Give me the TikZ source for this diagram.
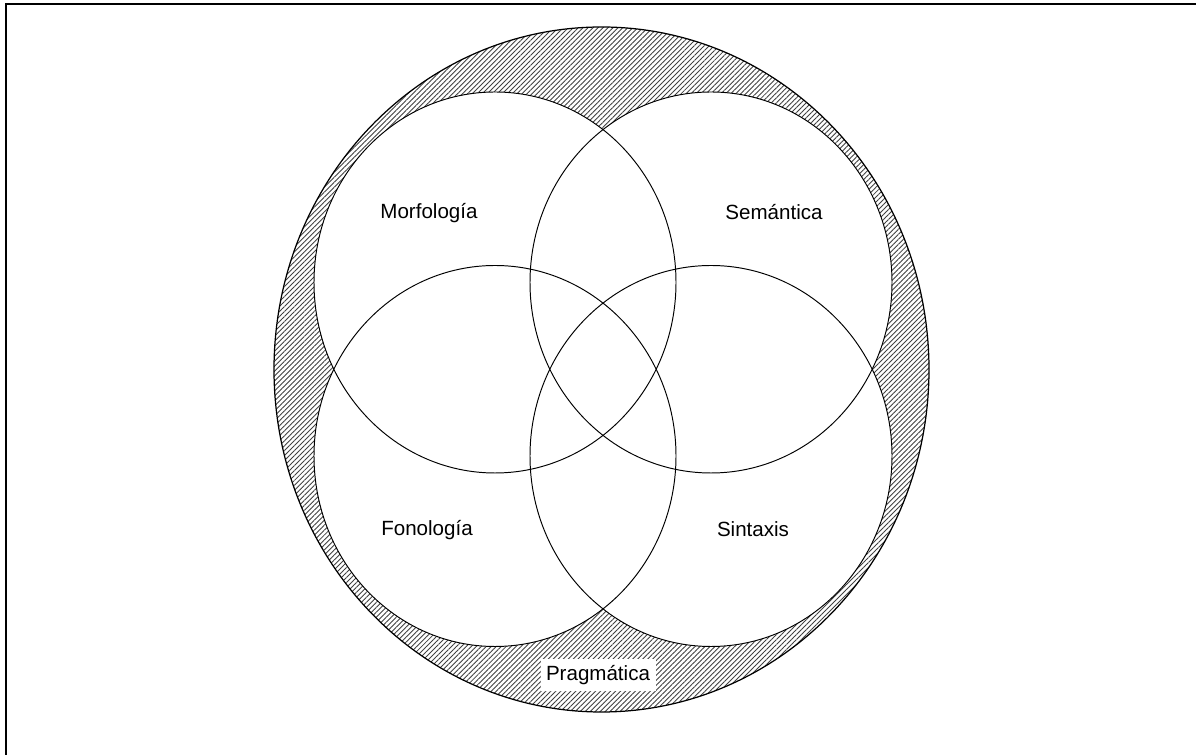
\documentclass[tikz,border=0pt]{standalone}
\usepackage{fontspec}
\setmainfont{Liberation Sans}
\usetikzlibrary{patterns.meta}

\begin{document}
\begin{tikzpicture}[
    area/.style={draw,line width=0.55pt},
    hatch/.style={pattern={Lines[angle=45,distance=2pt,line width=0.5pt]},pattern color=black!75},
    label/.style={font=\fontsize{11.7}{14}\selectfont,inner sep=0pt}]
  \useasboundingbox (0,0) rectangle (23.92,15.10);
  % frame
  \draw[line width=1.3pt] (0.12,0) -- (0.12,15.02) -- (23.92,15.02);
  % outer area
  \fill[hatch] (12.03,7.71) ellipse [x radius=6.55cm,y radius=6.85cm];
  \draw[line width=0.7pt] (12.03,7.71) ellipse [x radius=6.55cm,y radius=6.85cm];
  \foreach \cx/\cy in {9.90/9.45,14.22/9.45,9.90/5.98,14.22/5.98}
    \fill[white] (\cx,\cy) ellipse [x radius=3.62cm,y radius=3.81cm];
  \foreach \cx/\cy in {9.90/9.45,14.22/9.45,9.90/5.98,14.22/5.98}
    \draw[area] (\cx,\cy) ellipse [x radius=3.62cm,y radius=3.81cm];
  % labels
  \node[label] (morf) at (8.58,10.84) {Morfología};
  \node[label] (sem) at (15.48,10.86) {Semántica};
  \node[label] (fon) at (8.54,4.50) {Fonología};
  \node[label] (sin) at (15.06,4.52) {Sintaxis};
  \node[label,fill=white,minimum width=2.3cm,minimum height=0.64cm] (prag) at (11.96,1.60) {Pragmática};
\end{tikzpicture}
\end{document}
